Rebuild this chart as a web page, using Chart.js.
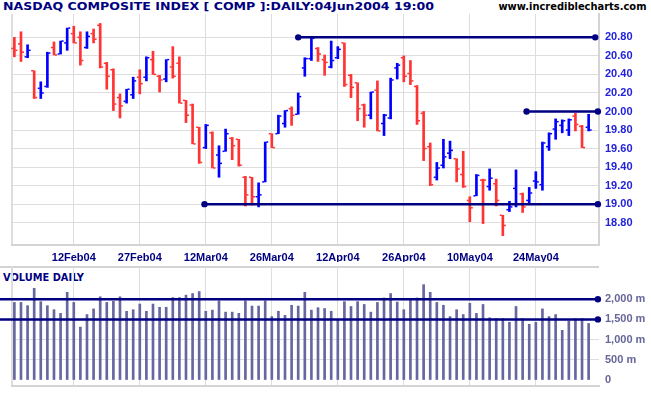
<!DOCTYPE html>
<html>
<head>
<meta charset="utf-8">
<script src="https://cdn.jsdelivr.net/npm/chart.js@4/dist/chart.umd.min.js"></script>
<style>
  body { margin: 0; background: #fff; width: 651px; height: 395px; overflow: hidden; position: relative; }
  canvas { position: absolute; left: 0; }
  .txt { position: absolute; white-space: nowrap; font: bold 11px "DejaVu Sans", sans-serif; line-height: 13px; }
</style>
</head>
<body>
<div class="txt" id="title" style="left:3px; top:0px; color:#000080;">NASDAQ COMPOSITE INDEX [ COMP ]:DAILY:04Jun2004 19:00</div>
<div class="txt" id="site" style="left:498px; top:0px; color:#000;">www.incrediblecharts.com</div>
<div class="txt" id="voltitle" style="left:3px; top:271px; color:#000080;">VOLUME DAILY</div>
<canvas id="price" width="651" height="262" style="top:0"></canvas>
<canvas id="volume" width="651" height="133" style="top:262px"></canvas>
<script>
// tick labels every 10 trading days
var tickIdx = [9, 19, 29, 39, 49, 59, 69, 79];
var tickLabels = ['12Feb04', '27Feb04', '12Mar04', '26Mar04', '12Apr04', '26Apr04', '10May04', '24May04'];

// daily OHLC, 30 Jan 2004 .. 04 Jun 2004
var opens = [20.68, 20.73, 20.59, 20.44, 20.25, 20.27, 20.69, 20.62, 20.74, 20.84,
  20.80, 20.69, 20.84, 20.93, 20.52, 20.45, 20.15, 20.11, 20.18, 20.37,
  20.37, 20.56, 20.38, 20.35, 20.48, 20.52, 20.12, 20.07, 19.83, 19.61,
  19.77, 19.53, 19.57, 19.71, 19.70, 19.29, 19.29, 19.08, 19.24, 19.76,
  19.76, 19.87, 20.03, 19.97, 20.47, 20.57, 20.68, 20.56, 20.48, 20.58,
  20.74, 20.39, 20.31, 20.07, 19.96, 20.23, 19.87, 19.93, 20.47, 20.58,
  20.41, 20.27, 19.98, 19.62, 19.29, 19.42, 19.55, 19.49, 19.32, 19.04,
  19.09, 19.26, 19.19, 19.22, 18.88, 18.94, 19.17, 19.11, 19.04, 19.25,
  19.21, 19.62, 19.81, 19.85, 19.80, 19.95, 19.84, 19.83];
var highs = [20.80, 20.86, 20.72, 20.44, 20.32, 20.64, 20.75, 20.76, 20.90, 20.92,
  20.86, 20.86, 20.89, 20.95, 20.53, 20.46, 20.19, 20.24, 20.37, 20.45,
  20.59, 20.65, 20.39, 20.56, 20.70, 20.59, 20.12, 20.08, 19.83, 19.86,
  19.78, 19.63, 19.81, 19.72, 19.70, 19.30, 19.29, 19.23, 19.67, 19.76,
  19.96, 20.01, 20.05, 20.20, 20.58, 20.80, 20.69, 20.61, 20.76, 20.70,
  20.74, 20.40, 20.31, 20.08, 20.21, 20.33, 19.97, 20.36, 20.52, 20.60,
  20.55, 20.28, 20.00, 19.66, 19.45, 19.70, 19.68, 19.49, 19.57, 19.08,
  19.32, 19.27, 19.38, 19.27, 18.88, 19.03, 19.37, 19.12, 19.18, 19.35,
  19.67, 19.77, 19.92, 19.91, 19.92, 19.98, 19.85, 19.97];
var lows = [20.59, 20.54, 20.58, 20.14, 20.14, 20.26, 20.61, 20.62, 20.66, 20.74,
  20.50, 20.68, 20.74, 20.47, 20.24, 20.01, 19.93, 20.09, 20.14, 20.19,
  20.33, 20.40, 20.21, 20.32, 20.36, 20.09, 19.88, 19.65, 19.44, 19.60,
  19.39, 19.29, 19.57, 19.48, 19.41, 18.98, 18.99, 18.97, 19.24, 19.61,
  19.76, 19.83, 19.85, 19.97, 20.38, 20.55, 20.54, 20.39, 20.47, 20.57,
  20.27, 20.15, 19.90, 19.83, 19.92, 19.79, 19.74, 19.92, 20.35, 20.32,
  20.29, 19.86, 19.47, 19.20, 19.26, 19.39, 19.49, 19.24, 19.18, 18.81,
  19.09, 18.79, 19.15, 18.98, 18.66, 18.92, 18.97, 18.91, 19.00, 19.17,
  19.15, 19.58, 19.70, 19.77, 19.74, 19.79, 19.61, 19.79];
var closes = [20.66, 20.64, 20.66, 20.15, 20.20, 20.63, 20.61, 20.76, 20.90, 20.74,
  20.55, 20.81, 20.78, 20.48, 20.38, 20.08, 20.06, 20.24, 20.33, 20.30,
  20.58, 20.40, 20.34, 20.56, 20.38, 20.09, 19.96, 19.65, 19.45, 19.85,
  19.39, 19.44, 19.76, 19.63, 19.42, 19.10, 19.08, 19.10, 19.67, 19.61,
  19.95, 20.01, 19.96, 20.16, 20.57, 20.79, 20.62, 20.53, 20.55, 20.67,
  20.29, 20.26, 20.03, 19.96, 20.21, 19.79, 19.96, 20.34, 20.50, 20.38,
  20.33, 19.90, 19.60, 19.21, 19.39, 19.51, 19.58, 19.38, 19.19, 18.96,
  19.31, 19.26, 19.28, 19.04, 18.77, 18.97, 19.00, 18.97, 19.12, 19.24,
  19.66, 19.76, 19.89, 19.90, 19.91, 19.86, 19.61, 19.80];

// daily volume, millions
var volumes = [1920, 1920, 1840, 2270, 1940, 1840, 1740, 1650, 2170, 1920,
  1310, 1620, 1760, 2060, 1920, 1950, 2060, 1700, 1740, 1880,
  1700, 1880, 1800, 1800, 2040, 2040, 2100, 2140, 2190, 1700,
  1730, 1960, 1680, 1680, 1650, 1960, 1830, 1830, 1960, 1570,
  1700, 1600, 1850, 1830, 2170, 1730, 1790, 1770, 1700, 1500,
  1940, 1820, 1940, 1870, 1680, 1920, 2030, 2140, 1930, 1740,
  1970, 2030, 2360, 2170, 1920, 1850, 1570, 1740, 1620, 1900,
  1650, 1870, 1540, 1520, 1520, 1430, 1820, 1520, 1380, 1430,
  1760, 1570, 1620, 1230, 1460, 1520, 1520, 1400];

// support / resistance lines: [startIdx, endIdx, level]
var priceLines = [[43.0, 88.0, 20.80], [77.6, 88.4, 20.00], [28.8, 88.4, 19.00]];
var volumeLines = [[-2.2, 88.4, 2000], [-2.2, 88.4, 1500]];

var xMin = -0.36, xMax = 88.57;
var RED = '#ff3333', BLUE = '#0000ff', NAVY = '#000080', GRID = '#dddddd';

var colors = closes.map(function(c, i) {
  var prev = i === 0 ? opens[0] : closes[i - 1];
  return c >= prev ? BLUE : RED;
});

function xTicks(scale) {
  scale.ticks = [{ value: xMin }].concat(tickIdx.map(function(v) { return { value: v }; }));
}

function lineSet(l, dotStart) {
  return {
    type: 'line',
    data: [{ x: l[0], y: l[2] }, { x: l[1], y: l[2] }],
    borderColor: NAVY,
    borderWidth: 2.5,
    pointRadius: [dotStart ? 3.2 : 0, 3.2],
    pointBackgroundColor: NAVY,
    pointBorderWidth: 0,
    clip: false,
    order: 1
  };
}

// open tick to the left, close tick to the right
var ohlcTicks = {
  id: 'ohlcTicks',
  afterDatasetDraw: function(chart, args) {
    if (args.index !== 0) return;
    var ctx = chart.ctx, xs = chart.scales.x, ys = chart.scales.y;
    ctx.save();
    opens.forEach(function(o, i) {
      var x = xs.getPixelForValue(i);
      ctx.fillStyle = colors[i];
      ctx.fillRect(x - 3, ys.getPixelForValue(o) - 0.75, 2, 1.5);
      ctx.fillRect(x + 1, ys.getPixelForValue(closes[i]) - 0.75, 2, 1.5);
    });
    ctx.restore();
  }
};

var tickFont = { family: '"Liberation Sans", Arial, sans-serif', size: 11, weight: 'bold' };

var priceChart = new Chart(document.getElementById('price').getContext('2d'), {
  type: 'bar',
  data: {
    datasets: [
      {
        data: highs.map(function(h, i) { return { x: i, y: [lows[i], h] }; }),
        backgroundColor: colors,
        barThickness: 2,
        order: 2
      }
    ].concat(priceLines.map(function(l) { return lineSet(l, true); }))
  },
  options: {
    responsive: false,
    animation: false,
    layout: { padding: { left: 12, top: 14, right: 0, bottom: 0 } },
    plugins: { legend: { display: false }, tooltip: { enabled: false } },
    scales: {
      x: {
        type: 'linear',
        offset: false,
        min: xMin,
        max: xMax,
        afterBuildTicks: xTicks,
        afterFit: function(s) { s.height = 17; },
        grid: {
          offset: false,
          color: GRID,
          drawTicks: false,
          lineWidth: function(c) { return c.index === 0 ? 2 : 1; }
        },
        border: { color: '#d4d4d4', width: 2 },
        ticks: {
          padding: 6,
          color: NAVY,
          font: tickFont,
          maxRotation: 0,
          autoSkip: false,
          callback: function(v) {
            var k = tickIdx.indexOf(v);
            return k < 0 ? '' : tickLabels[k];
          }
        }
      },
      y: {
        position: 'right',
        min: 18.559,
        max: 21.052,
        afterBuildTicks: function(s) {
          var t = [];
          for (var v = 18.8; v < 20.85; v += 0.2) t.push({ value: Math.round(v * 100) / 100 });
          s.ticks = t;
        },
        afterFit: function(s) { s.width = 52; s.paddingTop = 0; s.paddingBottom = 0; },
        grid: { color: GRID, drawTicks: false },
        border: { color: '#d4d4d4', width: 2 },
        ticks: {
          padding: 6,
          color: '#2222dd',
          font: tickFont,
          callback: function(v) { return v.toFixed(2); }
        }
      }
    }
  },
  plugins: [ohlcTicks]
});

var topRule = {
  id: 'topRule',
  beforeDraw: function(chart) {
    var ctx = chart.ctx, a = chart.chartArea;
    ctx.save();
    ctx.strokeStyle = '#d4d4d4';
    ctx.lineWidth = 2;
    ctx.beginPath();
    ctx.moveTo(0, a.top);
    ctx.lineTo(a.right, a.top);
    ctx.stroke();
    ctx.restore();
  }
};

var volumeChart = new Chart(document.getElementById('volume').getContext('2d'), {
  type: 'bar',
  data: {
    datasets: [
      {
        data: volumes.map(function(v, i) { return { x: i, y: v }; }),
        backgroundColor: '#6666a0',
        barThickness: 2,
        order: 2
      }
    ].concat(volumeLines.map(function(l) { return lineSet(l, false); }))
  },
  options: {
    responsive: false,
    animation: false,
    layout: { padding: { left: 12, top: 5, right: 0, bottom: 0 } },
    plugins: { legend: { display: false }, tooltip: { enabled: false } },
    scales: {
      x: {
        type: 'linear',
        offset: false,
        min: xMin,
        max: xMax,
        afterBuildTicks: xTicks,
        afterFit: function(s) { s.height = 9; },
        grid: {
          offset: false,
          color: GRID,
          drawTicks: false,
          lineWidth: function(c) { return c.index === 0 ? 2 : 1; }
        },
        border: { color: '#d4d4d4', width: 2 },
        ticks: { display: false }
      },
      y: {
        position: 'right',
        min: -148,
        max: 2797,
        afterBuildTicks: function(s) {
          s.ticks = [0, 500, 1000, 1500, 2000].map(function(v) { return { value: v }; });
        },
        afterFit: function(s) { s.width = 52; s.paddingTop = 0; s.paddingBottom = 0; },
        grid: {
          color: function(c) { return c.tick && c.tick.value === 0 ? 'rgba(0,0,0,0)' : GRID; },
          drawTicks: false
        },
        border: { display: false },
        ticks: {
          padding: 6,
          color: '#666699',
          font: tickFont,
          callback: function(v) { return v === 0 ? '0' : v.toLocaleString('en-US') + ' m'; }
        }
      }
    }
  },
  plugins: [topRule]
});

// stretch the header texts to the widths they take in the original
function fit(id, width, anchorRight) {
  var el = document.getElementById(id);
  var w = el.getBoundingClientRect().width;
  el.style.transformOrigin = anchorRight ? 'right top' : 'left top';
  if (anchorRight) el.style.left = (498 + 148 - w) + 'px';
  el.style.transform = 'scaleX(' + (width / w) + ')';
}
fit('title', 431, false);
fit('site', 148, true);
fit('voltitle', 81, false);
</script>
</body>
</html>
